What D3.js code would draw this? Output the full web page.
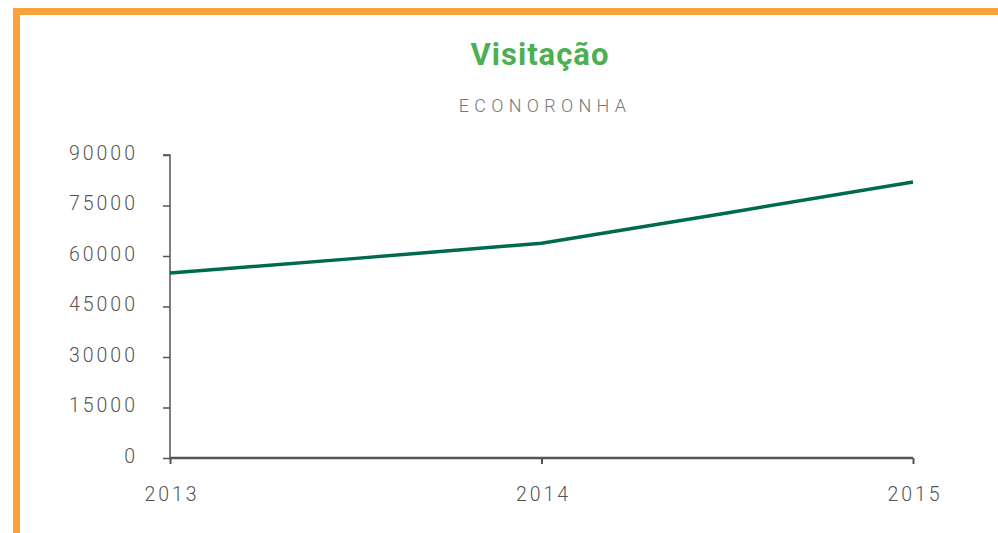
<!DOCTYPE html>
<html>
<head>
<meta charset="utf-8">
<script src="https://cdn.jsdelivr.net/npm/d3@7"></script>
<style>
  body { margin: 0; background: #fff; }
  svg { display: block; font-family: Roboto, "Noto Sans", sans-serif; }
</style>
</head>
<body>
<div id="chart"></div>
<script>
const years = ['2013', '2014', '2015'];
const visits = [54950, 63800, 82000];
const yTicks = [0, 15000, 30000, 45000, 60000, 75000, 90000];

const W = 998, H = 533;
const svg = d3.select('#chart').append('svg').attr('width', W).attr('height', H);

// orange frame (top and left)
svg.append('rect').attr('x', 13).attr('y', 8).attr('width', W - 13).attr('height', 7).attr('fill', '#f9a13a');
svg.append('rect').attr('x', 13).attr('y', 8).attr('width', 7).attr('height', H - 8).attr('fill', '#f9a13a');

svg.append('text').attr('x', 540).attr('y', 65).attr('text-anchor', 'middle')
   .attr('font-size', 31).attr('font-weight', 'bold').attr('letter-spacing', 1)
   .attr('fill', '#4caf50').text('Visitação');
svg.append('text').attr('x', 545).attr('y', 112).attr('text-anchor', 'middle')
   .attr('font-size', 18).attr('font-weight', 300).attr('letter-spacing', 5.3)
   .attr('fill', '#777').text('ECONORONHA');

const x = d3.scalePoint().domain(years).range([170, 913]);
const y = d3.scaleLinear().domain([0, 90000]).range([458, 155]);

const gy = svg.append('g').attr('transform', 'translate(170,0)')
   .call(d3.axisLeft(y).tickValues(yTicks).tickSize(7).tickPadding(25).tickFormat(d3.format('d')));
gy.select('.domain').attr('stroke', '#555').attr('stroke-width', 1.5).attr('d', 'M-7,155H0V458');
gy.selectAll('.tick line').attr('stroke', '#555').attr('stroke-width', 1.5);
gy.selectAll('.tick text').attr('font-size', 19.5).attr('fill', '#555').attr('letter-spacing', 3)
  .attr('dy', '0.22em').attr('font-family', 'Roboto, sans-serif').attr('font-weight', 300);

const gx = svg.append('g').attr('transform', 'translate(0,458)')
   .call(d3.axisBottom(x).tickSize(6).tickPadding(23));
gx.select('.domain').attr('stroke', '#555').attr('stroke-width', 2.5).attr('d', 'M170,0H913');
gx.selectAll('.tick line').attr('stroke', '#555').attr('stroke-width', 2);
gx.selectAll('.tick text').attr('font-size', 19.5).attr('fill', '#555').attr('letter-spacing', 3)
  .attr('dx', '1.5').attr('font-family', 'Roboto, sans-serif').attr('font-weight', 300);

const line = d3.line().x((d, i) => x(years[i])).y(d => y(d)).curve(d3.curveCardinal.tension(0.85));
svg.append('path').datum(visits).attr('d', line)
   .attr('fill', 'none').attr('stroke', '#006a4e').attr('stroke-width', 3.5);
</script>
</body>
</html>
